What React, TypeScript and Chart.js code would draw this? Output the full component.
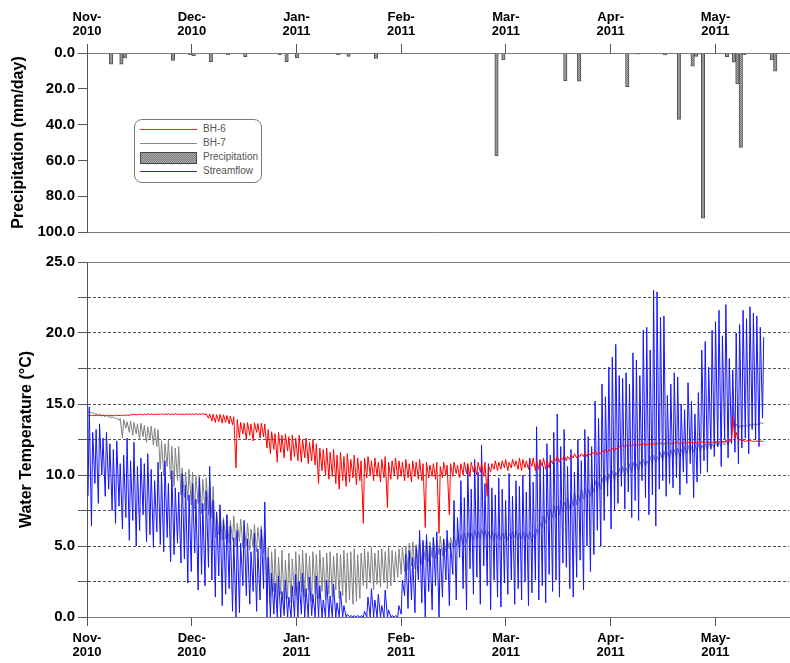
import React, { useEffect, useRef } from 'react';
import { Chart, registerables } from 'chart.js';

Chart.register(...registerables);

// Month ticks on a linear day axis (day 0 = 1 Nov 2010, one tick per mean month)
const monthTickDays = [0, 30.44, 60.88, 91.31, 121.75, 152.19, 182.63];
const monthLabels = ['Nov-', 'Dec-', 'Jan-', 'Feb-', 'Mar-', 'Apr-', 'May-'];
const yearLabels = ['2010', '2010', '2011', '2011', '2011', '2011', '2011'];

// Daily precipitation (day index since 1 Nov 2010, mm/day)
const precipDays = [7, 10, 11, 25, 30, 31, 36, 41, 46, 56, 58, 61, 73, 76, 84, 109, 119, 121, 139, 143, 157, 160, 168, 172, 176, 177, 178, 179, 186, 188, 189, 190, 191, 199, 200];
const precipMm = [6.2, 6.2, 2.8, 4.1, 1.1, 1.7, 4.9, 0.9, 2.0, 1.1, 4.9, 2.8, 0.9, 1.9, 3.0, 0.3, 57.4, 3.9, 15.4, 15.8, 18.8, 0.6, 1.1, 37.1, 7.3, 1.9, 0.6, 92.3, 2.0, 5.1, 17.3, 52.7, 0.9, 3.8, 10.1];

// Daily maximum / minimum water temperature (°C), one entry per day from 1 Nov 2010
const bh6High = [
  14.22, 14.21, 14.22, 14.2, 14.21, 14.22, 14.21, 14.2, 14.22, 14.21,
  14.22, 14.23, 14.24, 14.3, 14.28, 14.3, 14.29, 14.3, 14.31, 14.3,
  14.3, 14.32, 14.3, 14.31, 14.3, 14.32, 14.31, 14.3, 14.3, 14.31,
  14.3, 14.31, 14.3, 14.32, 14.3, 14.3, 14.28, 14.25, 14.27, 14.24,
  14.2, 14.15, 14.1, 13.9, 13.7, 13.65, 13.7, 13.6, 13.68, 13.62,
  13.65, 13.6, 13.2, 13.05, 12.9, 13.0, 12.8, 12.9, 12.7, 12.8,
  12.6, 12.8, 12.5, 12.6, 12.3, 12.5, 12.2, 11.9, 11.8, 11.9,
  11.6, 11.8, 11.4, 11.6, 11.3, 11.5, 11.1, 11.4, 11.2, 11.0,
  11.2, 11.3, 11.0, 11.2, 10.9, 11.1, 11.3, 10.9, 11.0, 11.2,
  11.0, 10.9, 11.1, 10.8, 11.0, 10.9, 11.1, 10.8, 10.9, 10.7,
  10.8, 10.9, 10.6, 10.9, 10.7, 10.8, 10.9, 10.7, 10.8, 10.9,
  10.8, 10.9, 10.7, 10.9, 10.8, 10.9, 10.7, 10.8, 11.0, 10.9,
  11.0, 11.1, 10.9, 11.1, 11.0, 11.2, 11.1, 11.0, 11.1, 11.2,
  11.0, 11.1, 11.2, 11.0, 11.1, 11.2, 11.3, 11.2, 11.4, 11.3,
  11.4, 11.5, 11.4, 11.5, 11.6, 11.5, 11.6, 11.7, 11.6, 11.7,
  11.8, 11.8, 11.9, 11.9, 12.0, 12.1, 12.1, 12.1, 12.15, 12.1,
  12.15, 12.2, 12.15, 12.2, 12.2, 12.2, 12.25, 12.2, 12.25, 12.25,
  12.25, 12.3, 12.25, 12.3, 12.3, 12.3, 12.3, 12.3, 12.35, 12.3,
  12.35, 12.3, 12.35, 12.35, 12.35, 12.4, 12.4, 14.1, 13.0, 12.5,
  12.45, 12.4, 12.45, 12.4, 12.4, 12.4, 12.4,
];
const bh6Low = [
  14.18, 14.18, 14.17, 14.18, 14.17, 14.18, 14.18, 14.17, 14.18, 14.18,
  14.18, 14.19, 14.2, 14.24, 14.22, 14.25, 14.23, 14.25, 14.26, 14.25,
  14.25, 14.26, 14.25, 14.26, 14.25, 14.26, 14.26, 14.25, 14.25, 14.26,
  14.26, 14.25, 14.26, 14.27, 14.26, 14.0, 13.8, 13.7, 13.75, 13.65,
  13.7, 13.6, 13.55, 10.5, 12.6, 12.9, 12.5, 12.8, 12.4, 13.0,
  12.6, 12.7, 11.9, 11.5, 11.8, 10.9, 11.6, 11.2, 11.7, 11.0,
  11.3, 11.0, 10.9, 11.2, 10.8, 11.0, 10.7, 9.4, 10.3, 10.0,
  9.7, 9.9, 9.4, 9.0, 9.6, 9.2, 9.5, 9.8, 9.3, 9.6,
  6.6, 9.8, 10.0, 9.6, 9.9, 9.5, 9.8, 7.7, 9.7, 10.0,
  9.7, 9.9, 9.6, 9.8, 9.5, 9.9, 9.7, 9.6, 6.3, 9.8,
  9.9, 9.7, 5.9, 9.8, 10.0, 7.2, 9.9, 10.1, 9.8, 10.0,
  10.1, 9.9, 10.2, 10.0, 10.2, 9.9, 8.5, 10.2, 10.4, 10.3,
  10.4, 10.5, 10.3, 10.5, 10.6, 10.4, 10.3, 10.5, 10.4, 10.6,
  10.3, 10.4, 10.6, 10.4, 10.5, 10.8, 11.0, 10.9, 11.1, 11.0,
  11.1, 11.2, 11.2, 11.3, 11.3, 11.3, 11.4, 11.5, 11.4, 11.5,
  11.6, 11.6, 11.7, 11.7, 11.8, 12.0, 12.0, 12.05, 12.05, 12.05,
  12.1, 12.1, 12.1, 12.15, 12.15, 12.15, 12.2, 12.15, 12.2, 12.2,
  12.2, 12.25, 12.2, 12.25, 12.25, 12.25, 12.25, 12.25, 12.3, 12.25,
  12.3, 12.25, 12.3, 12.3, 12.3, 12.35, 12.35, 12.4, 12.6, 12.4,
  12.4, 12.35, 12.4, 12.35, 12.35, 12.35, 12.35,
];
const bh7High = [
  14.45, 14.42, 14.33, 14.3, 14.22, 14.2, 14.12, 14.1, 14.02, 13.98,
  13.9, 13.75, 13.8, 13.7, 13.6, 13.65, 13.5, 13.4, 13.45, 13.3,
  13.2, 12.4, 12.2, 12.45, 12.0, 11.9, 12.0, 10.5, 10.2, 10.4,
  10.2, 9.9, 10.0, 9.7, 9.8, 9.6, 9.2, 7.4, 7.6, 7.0,
  7.2, 6.8, 7.1, 6.6, 6.9, 6.4, 6.6, 6.2, 6.5, 6.3,
  6.4, 6.0, 4.9, 4.6, 4.8, 4.2, 4.7, 4.0, 4.5, 4.1,
  4.6, 4.4, 4.7, 4.5, 4.3, 4.6, 4.4, 4.7, 4.2, 4.5,
  4.6, 4.3, 4.5, 4.4, 4.7, 4.5, 4.6, 4.8, 4.4, 4.5,
  4.8, 4.6, 4.9, 4.5, 4.7, 4.8, 4.6, 4.9, 4.7, 4.6,
  4.8, 4.9, 5.0, 5.2, 5.3, 5.1, 5.4, 5.2, 5.5, 5.3,
  5.6, 5.4, 5.7, 5.5, 5.6, 5.6, 5.7, 5.6, 5.8, 5.9,
  6.0, 5.9, 6.1, 6.0, 6.2, 6.1, 6.0, 6.1, 5.9, 6.0,
  5.9, 6.0, 5.9, 6.0, 6.1, 5.9, 6.0, 5.9, 6.0, 5.8,
  6.2, 6.6, 7.1, 7.5, 7.6, 7.9, 7.8, 8.2, 8.1, 8.4,
  8.5, 8.8, 8.6, 9.0, 9.1, 9.0, 9.4, 9.6, 9.5, 9.8,
  10.0, 10.1, 10.3, 10.2, 10.5, 10.6, 10.5, 10.8, 10.9, 10.8,
  11.0, 11.1, 11.0, 11.3, 11.4, 11.3, 11.6, 11.7, 11.6, 11.8,
  11.8, 11.9, 11.8, 12.0, 12.1, 12.0, 12.1, 12.2, 12.1, 12.2,
  12.3, 12.2, 12.4, 12.3, 12.4, 12.5, 12.4, 14.9, 13.6, 13.5,
  13.5, 13.5, 13.6, 13.6, 13.6, 13.7, 13.7,
];
const bh7Low = [
  14.4, 14.36, 14.28, 14.2, 14.16, 14.1, 14.06, 14.0, 13.95, 13.85,
  12.6, 13.3, 13.0, 12.8, 12.9, 12.5, 12.7, 12.3, 12.5, 12.1,
  12.0, 10.4, 10.0, 10.6, 9.7, 9.2, 9.6, 8.6, 8.4, 8.2,
  7.9, 7.6, 8.0, 7.3, 7.5, 7.2, 7.0, 5.6, 5.8, 5.4,
  5.5, 5.2, 5.4, 5.0, 5.3, 4.9, 5.0, 4.7, 4.9, 4.6,
  4.8, 4.5, 2.1, 1.4, 1.8, 0.9, 1.6, 0.7, 1.3, 1.0,
  1.5, 1.2, 1.8, 1.4, 1.9, 1.1, 1.6, 1.3, 1.8, 1.2,
  1.6, 1.4, 1.9, 1.3, 1.5, 1.0, 1.2, 0.9, 1.1, 1.3,
  2.2, 2.0, 2.4, 1.9, 2.3, 2.1, 2.4, 2.0, 2.2, 2.5,
  2.8, 3.0, 3.2, 3.3, 3.6, 3.4, 3.8, 3.7, 4.0, 3.9,
  4.2, 4.1, 4.4, 4.3, 4.6, 4.8, 4.9, 5.0, 5.0, 5.1,
  5.2, 5.3, 5.4, 5.5, 5.5, 5.6, 5.5, 5.5, 5.4, 5.5,
  5.4, 5.5, 5.4, 5.5, 5.6, 5.4, 5.5, 5.4, 5.5, 5.3,
  5.5, 5.9, 6.3, 6.6, 6.8, 7.0, 7.0, 7.2, 7.4, 7.5,
  7.6, 7.8, 7.9, 8.1, 8.3, 8.4, 8.5, 8.8, 8.9, 9.0,
  9.2, 9.4, 9.5, 9.6, 9.8, 9.9, 10.0, 10.1, 10.2, 10.3,
  10.3, 10.5, 10.6, 10.7, 10.8, 10.9, 11.0, 11.0, 11.1, 11.2,
  11.2, 11.3, 11.3, 11.4, 11.5, 11.5, 11.6, 11.7, 11.7, 11.8,
  11.8, 11.9, 11.9, 12.0, 12.0, 12.1, 12.1, 12.3, 13.3, 13.3,
  13.3, 13.4, 13.4, 13.4, 13.5, 13.5, 13.6,
];
const streamHigh = [
  14.8, 13.0, 13.2, 13.6, 12.6, 13.0, 12.2, 11.8, 12.4, 10.8,
  11.4, 12.6, 11.0, 12.3, 10.6, 11.2, 10.8, 11.5, 10.4, 9.6,
  10.9, 10.2, 11.0, 9.4, 10.3, 9.1, 8.8, 10.1, 9.3, 8.6,
  9.4, 8.3, 9.8, 8.0, 8.9, 10.6, 8.2, 7.4, 7.9, 6.8,
  7.2, 6.4, 5.6, 6.1, 5.2, 6.8, 5.5, 4.6, 5.9, 4.8,
  6.2, 8.1, 4.2, 3.1, 2.4, 2.9, 1.8, 2.6, 1.4, 2.2,
  3.0, 2.5, 3.1, 2.0, 2.8, 1.6, 2.9, 2.2, 1.2, 2.6,
  1.5, 2.3, 1.0, 1.8, 0.8, 0.2, 0.1, 0.1, 0.1, 0.1,
  0.4, 1.4, 2.0, 1.2, 1.6, 0.8, 1.9, 0.5, 0.1, 0.1,
  0.8, 2.6, 4.4, 4.7, 4.2, 4.9, 6.1, 5.4, 5.8, 5.0,
  5.6, 6.0, 4.8, 5.5, 6.1, 5.2, 8.2, 7.0, 9.6, 8.4,
  10.6, 9.0, 11.1, 10.2, 12.1, 9.4, 10.8, 9.1, 8.6, 9.8,
  9.0, 8.2, 10.1, 8.5, 9.6, 9.2, 10.0, 8.8, 11.2, 9.5,
  13.4, 11.0, 10.6, 12.2, 11.4, 13.0, 14.3, 12.0, 13.2, 10.6,
  11.8, 10.2, 12.5, 11.0, 13.2, 12.7, 12.0, 15.2, 14.0, 16.4,
  15.5, 17.6, 18.3, 19.2, 17.0, 16.8, 17.2, 16.4, 18.6, 18.1,
  17.0, 20.2, 20.4, 18.8, 23.0, 22.9, 21.1, 21.2, 15.6, 16.4,
  17.2, 16.9, 15.0, 14.6, 16.5, 15.2, 14.3, 15.8, 18.8, 19.4,
  17.6, 20.2, 20.8, 21.6, 19.8, 22.0, 18.2, 17.4, 20.0, 20.6,
  21.6, 21.0, 21.85, 21.4, 21.2, 20.4, 19.7,
];
const streamLow = [
  8.5, 6.4, 9.4, 8.0, 10.0, 8.5, 9.0, 7.5, 6.6, 7.8,
  6.2, 7.0, 5.4, 6.8, 5.0, 6.1, 7.2, 5.3, 5.8, 4.9,
  6.0, 5.1, 4.6, 5.6, 3.9, 4.4, 5.2, 3.8, 4.1, 2.4,
  3.2, 4.5, 1.9, 3.0, 2.2, 3.5, 2.6, 1.4, 2.9, 0.8,
  1.6, 2.0, 0.4, 0.0, 0.3, 2.2, 1.5, 0.9, 1.8, 0.4,
  1.2, 2.0, 0.0, 0.0, 0.2, 0.0, 0.0, 0.1, 0.0, 0.0,
  0.0, 0.0, 0.2, 0.0, 0.0, 0.1, 0.0, 0.0, 0.0, 0.0,
  0.0, 0.0, 0.0, 0.0, 0.0, 0.0, 0.0, 0.0, 0.0, 0.0,
  0.0, 0.0, 0.0, 0.0, 0.0, 0.0, 0.0, 0.0, 0.0, 0.0,
  0.0, 0.2, 1.5, 0.6, 1.2, 0.3, 2.6, 1.0, 0.0, 1.8,
  0.5, 2.2, 0.0, 1.4, 2.6, 0.8, 3.0, 1.2, 4.2, 2.0,
  0.5, 3.4, 1.6, 2.8, 0.9, 3.6, 2.2, 0.5, 2.6, 1.4,
  0.7, 2.4, 1.6, 2.6, 0.9, 2.0, 1.2, 2.5, 0.8, 1.7,
  2.6, 1.2, 2.2, 1.0, 3.0, 1.8, 2.6, 1.4, 3.8, 3.5,
  2.0, 1.4, 2.8, 4.0, 1.9, 5.0, 3.2, 4.4, 6.1, 5.0,
  6.8, 8.5, 6.2, 7.5, 8.0, 9.2, 7.6, 8.8, 7.0, 8.2,
  6.8, 9.6, 8.4, 7.2, 8.6, 6.4, 9.0, 9.6, 8.5, 9.4,
  9.1, 9.8, 8.6, 10.2, 9.4, 10.8, 8.4, 9.5, 10.1, 11.0,
  10.2, 11.8, 11.3, 12.0, 10.6, 12.5, 11.2, 12.2, 11.6, 10.8,
  11.9, 12.6, 11.5, 13.2, 12.5, 12.0, 14.0,
];

const X_MAX = 204;
const FONT = '"Liberation Sans", Arial, sans-serif';
const AXIS_GREY = '#7a7a7a';
const TICK_GREY = '#555555';

// Morning minimum then afternoon maximum for each day
function dailyPoints(low: number[], high: number[]) {
  const pts: { x: number; y: number }[] = [];
  low.forEach((lo, d) => {
    pts.push({ x: d + 0.3, y: lo });
    pts.push({ x: d + 0.65, y: high[d] });
  });
  return pts;
}

function monthTickLabel(_v: unknown, i: number) {
  return [monthLabels[i], yearLabels[i]];
}

function makeHatch(): CanvasPattern | string {
  const pc = document.createElement('canvas');
  pc.width = 2;
  pc.height = 2;
  const g = pc.getContext('2d');
  if (!g) return '#909090';
  g.fillStyle = '#b0b0b0';
  g.fillRect(0, 0, 2, 2);
  g.fillStyle = '#7a7a7a';
  g.fillRect(0, 0, 1, 1);
  g.fillRect(1, 1, 1, 1);
  return g.createPattern(pc, 'repeat') || '#909090';
}

const legendItems = [
  { label: 'BH-6', kind: 'line', color: '#ff2020', y: 129 },
  { label: 'BH-7', kind: 'line', color: '#8a8a8a', y: 143 },
  { label: 'Precipitation', kind: 'box', color: '#808080', y: 157 },
  { label: 'Streamflow', kind: 'line', color: '#2020ff', y: 171 },
];

export default function App() {
  const topRef = useRef<HTMLCanvasElement>(null);
  const botRef = useRef<HTMLCanvasElement>(null);

  useEffect(() => {
    if (!topRef.current || !botRef.current) return;
    const hatch = makeHatch();

    const monthAxisTicks = (s: any) => {
      s.ticks = monthTickDays.map((v) => ({ value: v }));
    };

    const precipChart = new Chart(topRef.current, {
      type: 'bar',
      data: {
        datasets: [
          {
            label: 'Precipitation',
            data: precipDays.map((d, i) => ({ x: d, y: precipMm[i] })),
            backgroundColor: hatch as any,
            borderColor: '#505050',
            borderWidth: 1,
            barPercentage: 1,
            categoryPercentage: 1,
            xAxisID: 'x',
            yAxisID: 'y',
          },
        ],
      },
      options: {
        animation: false,
        responsive: false,
        maintainAspectRatio: false,
        layout: { padding: { top: 0, right: 1, bottom: 13, left: 0 } },
        plugins: { legend: { display: false }, tooltip: { enabled: false } },
        scales: {
          x: {
            type: 'linear',
            position: 'top',
            min: 0,
            max: X_MAX,
            offset: false,
            afterBuildTicks: monthAxisTicks,
            afterFit: (s: any) => { s.height = 53; },
            ticks: {
              callback: monthTickLabel as any,
              autoSkip: false,
              maxRotation: 0,
              color: '#000',
              padding: 6,
              font: { family: FONT, size: 13, weight: 'bold', lineHeight: 1.05 },
            },
            grid: { drawOnChartArea: false, offset: false, tickLength: 9, tickColor: TICK_GREY },
            border: { color: AXIS_GREY },
          },
          xb: {
            type: 'linear',
            position: 'bottom',
            min: 0,
            max: X_MAX,
            ticks: { display: false },
            grid: { display: false },
            border: { color: AXIS_GREY },
            afterFit: (s: any) => { s.height = 0; },
          },
          y: {
            type: 'linear',
            reverse: true,
            min: 0,
            max: 100,
            afterFit: (s: any) => { s.width = 87; },
            ticks: {
              stepSize: 10,
              color: '#000',
              padding: 3,
              callback: (v: any) => (Number(v) % 20 === 0 ? Number(v).toFixed(1) : ''),
              font: { family: FONT, size: 15, weight: 'bold' },
            },
            grid: { drawOnChartArea: false, tickLength: 9, tickColor: TICK_GREY },
            border: { color: TICK_GREY },
            title: {
              display: true,
              text: 'Precipitation (mm/day)',
              color: '#000',
              padding: { top: 9, bottom: 0 },
              font: { family: FONT, size: 16, weight: 'bold' },
            },
          },
        },
      },
    });

    const tempChart = new Chart(botRef.current, {
      type: 'line',
      data: {
        datasets: [
          {
            label: 'BH-6',
            data: dailyPoints(bh6Low, bh6High),
            borderColor: '#ff0000',
            borderWidth: 1,
            pointRadius: 0,
            tension: 0,
            xAxisID: 'x',
            yAxisID: 'y',
          },
          {
            label: 'Streamflow',
            data: dailyPoints(streamLow, streamHigh),
            borderColor: '#1414ff',
            borderWidth: 1,
            pointRadius: 0,
            tension: 0,
            xAxisID: 'x',
            yAxisID: 'y',
          },
          {
            label: 'BH-7',
            data: dailyPoints(bh7Low, bh7High),
            borderColor: '#808080',
            borderWidth: 1,
            pointRadius: 0,
            tension: 0,
            xAxisID: 'x',
            yAxisID: 'y',
          },
        ],
      },
      options: {
        animation: false,
        responsive: false,
        maintainAspectRatio: false,
        layout: { padding: { top: 17, right: 1, bottom: 0, left: 0 } },
        plugins: { legend: { display: false }, tooltip: { enabled: false } },
        scales: {
          x: {
            type: 'linear',
            position: 'bottom',
            min: 0,
            max: X_MAX,
            afterBuildTicks: monthAxisTicks,
            afterFit: (s: any) => { s.height = 46; },
            ticks: {
              callback: monthTickLabel as any,
              autoSkip: false,
              maxRotation: 0,
              color: '#000',
              padding: 6,
              font: { family: FONT, size: 13, weight: 'bold', lineHeight: 1.05 },
            },
            grid: { drawOnChartArea: false, tickLength: 9, tickColor: TICK_GREY },
            border: { color: AXIS_GREY, width: 1 },
          },
          xt: {
            type: 'linear',
            position: 'top',
            min: 0,
            max: X_MAX,
            ticks: { display: false },
            grid: { display: false },
            border: { color: AXIS_GREY },
            afterFit: (s: any) => { s.height = 0; },
          },
          y: {
            type: 'linear',
            min: 0,
            max: 25,
            afterFit: (s: any) => { s.width = 87; },
            ticks: {
              stepSize: 2.5,
              color: '#000',
              padding: 3,
              callback: (v: any) => (Number(v) % 5 === 0 ? Number(v).toFixed(1) : ''),
              font: { family: FONT, size: 15, weight: 'bold' },
            },
            grid: {
              color: (c: any) => (c.tick && (c.tick.value === 0 || c.tick.value === 25) ? 'rgba(0,0,0,0)' : '#555555'),
              tickColor: TICK_GREY,
              tickLength: 9,
            },
            border: { color: TICK_GREY, dash: [3, 2] },
            title: {
              display: true,
              text: 'Water Temperature (°C)',
              color: '#000',
              padding: { top: 17, bottom: 0 },
              font: { family: FONT, size: 16, weight: 'bold' },
            },
          },
        },
      },
    });

    return () => {
      precipChart.destroy();
      tempChart.destroy();
    };
  }, []);

  const textStyle: React.CSSProperties = {
    position: 'absolute',
    left: 203,
    font: `10px ${FONT}`,
    color: '#555',
    lineHeight: '12px',
    whiteSpace: 'nowrap',
  };

  return (
    <div style={{ position: 'fixed', left: 0, top: 0, width: 790, height: 663, background: '#fff' }}>
      <canvas ref={topRef} width={790} height={245} style={{ position: 'absolute', left: 0, top: 0, width: 790, height: 245 }} />
      <canvas ref={botRef} width={790} height={418} style={{ position: 'absolute', left: 0, top: 245, width: 790, height: 418 }} />
      <div
        style={{
          position: 'absolute',
          left: 134,
          top: 119,
          width: 126,
          height: 62,
          border: '1px solid #7a7a7a',
          borderRadius: 8,
          background: '#fff',
        }}
      />
      {legendItems.map((it) =>
        it.kind === 'line' ? (
          <div
            key={it.label}
            style={{ position: 'absolute', left: 140, top: it.y, width: 57, height: 0, borderTop: `1px solid ${it.color}` }}
          />
        ) : (
          <div
            key={it.label}
            style={{
              position: 'absolute',
              left: 140,
              top: it.y - 5,
              width: 55,
              height: 10,
              border: '1px solid #444',
              background: 'repeating-conic-gradient(#7a7a7a 0% 25%, #b0b0b0 0% 50%) 0 0 / 2px 2px',
            }}
          />
        )
      )}
      {legendItems.map((it) => (
        <div key={it.label + '-t'} style={{ ...textStyle, top: it.y - 6 }}>
          {it.label}
        </div>
      ))}
    </div>
  );
}
